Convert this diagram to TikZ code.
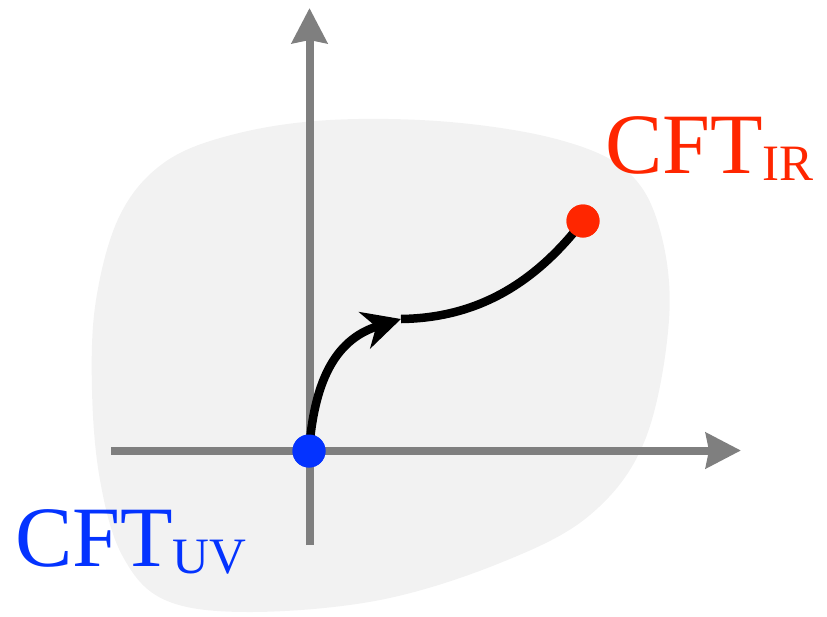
\documentclass[tikz,border=0pt]{standalone}
\usepackage{fontspec}
\IfFontExistsTF{LiberationSerif-Regular.ttf}
  {\newfontfamily\cftfont{LiberationSerif-Regular.ttf}}
  {\newfontfamily\cftfont{Liberation Serif}}
\usetikzlibrary{arrows.meta}
\definecolor{blobgray}{HTML}{F2F2F2}
\definecolor{axisgray}{HTML}{7F7F7F}
\definecolor{irred}{HTML}{FF2600}
\definecolor{uvblue}{HTML}{0433FF}
\tikzset{
  axisline/.style={draw=axisgray, line width=8pt, -{Triangle[length=35pt,width=35pt,inset=3pt]}},
  flowline/.style={draw=black, line width=8.5pt},
  fixedpt/.style={circle, inner sep=0pt, minimum size=33pt},
  cftlabel/.style={inner sep=0pt, anchor=base west},
}
\newcommand{\bigcft}[1]{{\cftfont\fontsize{86}{86}\selectfont CFT\raisebox{-7pt}{\fontsize{51}{51}\selectfont #1}}}
\begin{document}
\begin{tikzpicture}[x=1pt,y=-1pt]
\useasboundingbox (0,0) rectangle (827,616);
% background blob
\fill[blobgray] plot[smooth cycle, tension=0.6] coordinates {
  (330,120) (450,122) (560,140) (628,172) (660,230) (669,320) (645,440)
  (590,515) (500,563) (380,600) (250,612) (165,600) (122,555) (100,480)
  (92,390) (96,300) (120,215) (165,162) (235,134)};
% axes
\coordinate (xs) at (111,450.5);
\coordinate (xe) at (741,450.5);
\coordinate (ys) at (309.5,545);
\coordinate (ye) at (309.5,8);
\draw[axisline] (xs) -- (xe);
\draw[axisline] (ys) -- (ye);
% fixed points
\node[fixedpt, fill=uvblue] (uv) at (309,451) {};
\node[fixedpt, fill=irred] (ir) at (583,221) {};
\coordinate (mid) at (401,319);
% flow
\draw[flowline, -{Stealth[length=38pt,width=38pt,inset=12pt]}] (uv.center) .. controls (314,385) and (333,340) .. (mid);
\draw[flowline] (mid) .. controls (470,318) and (530,290) .. (ir.center);
\node[fixedpt, fill=uvblue] at (uv) {};
\node[fixedpt, fill=irred] at (ir) {};
% labels
\node[cftlabel, text=irred] (irlabel) at (605,173) {\bigcft{IR}};
\node[cftlabel, text=uvblue] (uvlabel) at (15,566) {\bigcft{UV}};
\end{tikzpicture}
\end{document}
